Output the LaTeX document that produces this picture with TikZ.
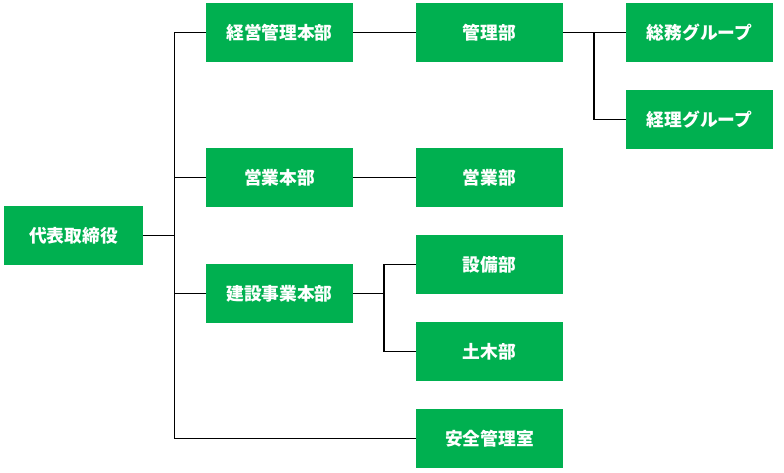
\documentclass[tikz,border=0pt]{standalone}
\usepackage{fontspec}
\newfontfamily\jpfont{Noto Sans CJK JP}
\usepackage{tikz}
\definecolor{orggreen}{HTML}{00B050}
\tikzset{
	orgbox/.style={fill=orggreen, text=white, inner sep=0pt, minimum width=110.25pt, minimum height=44.25pt, font=\jpfont\bfseries\fontsize{13.3}{16}\selectfont},
	topbox/.style={orgbox, minimum width=104.25pt},
	orgline/.style={line width=0.9pt, black}
}

\begin{document}
\begin{tikzpicture}[x=0.75pt, y=-0.75pt]
		%%%%% START %%%%%
		\useasboundingbox (0, 0) rectangle (784, 472);
		
		\node[topbox] (daihyo) at (73.5, 235.5) {代表取締役};
		
		\node[orgbox] (keiei) at (279.5, 32.5) {経営管理本部};
		\node[orgbox] (eigyohq) at (279.5, 177.5) {営業本部};
		\node[orgbox] (kensetsu) at (279.5, 293.5) {建設事業本部};
		
		\node[orgbox] (kanri) at (489.5, 32.5) {管理部};
		\node[orgbox] (eigyo) at (489.5, 177.5) {営業部};
		\node[orgbox] (setsubi) at (489.5, 264.5) {設備部};
		\node[orgbox] (doboku) at (489.5, 351.5) {土木部};
		\node[orgbox] (anzen) at (489.5, 438.5) {安全管理室};
		
		\node[orgbox] (somu) at (699.5, 32.5) {総務グループ};
		\node[orgbox] (keiri) at (699.5, 119.5) {経理グループ};
		
		% trunk
		\coordinate (j1) at (174.5, 235.5);
		\draw[orgline] (daihyo.east) -- (j1);
		\draw[orgline] (keiei.west) -| (j1) |- (anzen.west);
		\draw[orgline] (eigyohq.west) -- (eigyohq.west -| j1);
		\draw[orgline] (kensetsu.west) -- (kensetsu.west -| j1);
		
		\draw[orgline] (keiei.east) -- (kanri.west);
		\draw[orgline] (eigyohq.east) -- (eigyo.west);
		
		% kanri branch
		\coordinate (j2) at (594, 32.5);
		\draw[orgline] (kanri.east) -- (j2) |- (keiri.west);
		\draw[orgline] (j2) -- (somu.west);
		
		% kensetsu branch
		\coordinate (j3) at (384, 293.5);
		\draw[orgline] (kensetsu.east) -- (j3);
		\draw[orgline] (setsubi.west) -| (j3) |- (doboku.west);
		
		%%%%% END %%%%%
	\end{tikzpicture}
\end{document}
